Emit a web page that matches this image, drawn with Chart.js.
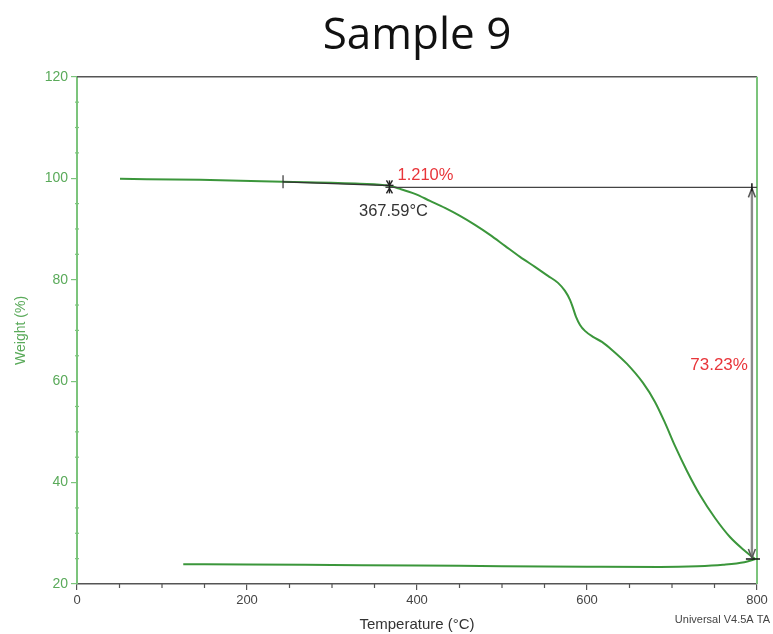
<!DOCTYPE html>
<html><head><meta charset="utf-8">
<script src="https://cdn.jsdelivr.net/npm/chart.js@4/dist/chart.umd.min.js"></script>
<style>html,body{margin:0;padding:0;background:#fff}#wrap{width:773px;height:634px}</style>
</head><body><div id="wrap"><canvas id="c" width="773" height="634"></canvas></div>
<script>
// Heating run (Temperature °C, Weight %)
const heatTemp   = [50.6,144.7,242.4,332.9,367.1,380.0,397.6,415.3,432.9,450.6,468.2,485.9,503.5,521.2,538.8,554.1,565.9,574.1,580.0,583.5,587.1,591.8,597.6,607.1,617.6,629.4,647.1,665.9,680.0,691.8,703.5,717.6,732.9,750.6,768.2,785.9,797.6];
const heatWeight = [99.88,99.68,99.29,98.90,98.50,97.91,96.92,95.54,94.16,92.58,90.81,88.84,86.67,84.50,82.52,80.75,79.37,77.79,76.02,74.44,72.66,71.08,69.90,68.72,67.73,66.15,63.39,59.64,55.90,51.76,47.22,42.29,37.55,33.02,29.27,26.51,24.93];
// Return trace
const coolTemp   = [125,200,300,400,500,600,686,730,760,785,798];
const coolWeight = [23.9,23.85,23.75,23.65,23.5,23.4,23.35,23.5,23.8,24.3,24.9];
// Tick labels
const xTicks = [0,200,400,600,800];
const yTicks = [20,40,60,80,100,120];
// Annotation values
const onsetStartT = 242.4, onsetStartW = 99.3;
const onsetT = 367.59, stepLevelW = 98.2, finalW = 24.93, arrowT = 794;
const stepLossLabel = '1.210%', onsetLabel = '367.59°C', totalLossLabel = '73.23%';
const footer = 'Universal V4.5A TA';

const GREEN_AX = '#7cc47c', GREEN_TXT = '#5aaa5a', CURVE = '#3b963b', DARK = '#555';

const annot = {
  id: 'annot',
  afterDraw(chart) {
    const {ctx, chartArea: a, scales: {x, y}} = chart;
    const X = v => x.getPixelForValue(v), Y = v => y.getPixelForValue(v);
    const ln = (x1, y1, x2, y2) => { ctx.beginPath(); ctx.moveTo(x1, y1); ctx.lineTo(x2, y2); ctx.stroke(); };
    ctx.save();
    // frame
    ctx.lineWidth = 1.5; ctx.strokeStyle = DARK; ln(a.left, a.top, a.right, a.top);
    ctx.strokeStyle = GREEN_AX; ctx.lineWidth = 2; ln(a.right, a.top, a.right, a.bottom);
    // minor ticks
    ctx.lineWidth = 1.2; ctx.strokeStyle = DARK;
    for (let t = 50; t < 800; t += 50) if (t % 200) ln(X(t), a.bottom, X(t), a.bottom + 4);
    ctx.strokeStyle = GREEN_AX;
    for (let w = 25; w < 120; w += 5) if (w % 20) ln(a.left - 2, Y(w), a.left + 2, Y(w));
    // onset tangent
    ctx.strokeStyle = '#333'; ctx.lineWidth = 1.2;
    ln(X(onsetStartT), Y(onsetStartW), X(onsetT), Y(98.55));
    ln(X(onsetStartT), Y(onsetStartW) - 6.5, X(onsetStartT), Y(onsetStartW) + 6.5);
    // horizontal step level
    ctx.strokeStyle = '#444';
    ln(X(onsetT) - 4, Y(stepLevelW), a.right, Y(stepLevelW));
    // onset marker
    const mx = X(onsetT), my = Y(stepLevelW);
    ctx.strokeStyle = '#222'; ctx.lineWidth = 1.4;
    ln(mx, my - 7, mx, my + 6);
    ln(mx - 3, my - 7, mx, my - 2); ln(mx + 3, my - 7, mx, my - 2);
    ln(mx - 3, my + 6, mx, my + 1); ln(mx + 3, my + 6, mx, my + 1);
    ln(mx - 4, my - 2, mx + 4, my - 2);
    // big arrow
    const ax = X(arrowT), ay1 = Y(stepLevelW), ay2 = Y(finalW);
    ctx.strokeStyle = '#8a8a8a'; ctx.lineWidth = 2.4;
    ln(ax, ay1 + 2, ax, ay2 - 2);
    ctx.strokeStyle = '#555'; ctx.lineWidth = 1.5;
    ln(ax - 3.5, ay1 + 10, ax, ay1 + 1); ln(ax + 3.5, ay1 + 10, ax, ay1 + 1);
    ln(ax - 3.5, ay2 - 10, ax, ay2 - 1); ln(ax + 3.5, ay2 - 10, ax, ay2 - 1);
    ctx.strokeStyle = '#111'; ctx.lineWidth = 1.5;
    ln(ax, ay1 - 4, ax, ay1 + 4);
    ln(ax - 6, ay2, a.right + 3, ay2);
    // labels
    ctx.font = '16.5px "Liberation Sans", Arial, sans-serif';
    ctx.textBaseline = 'middle';
    ctx.fillStyle = '#e8353a'; ctx.textAlign = 'left';
    ctx.fillText(stepLossLabel, mx + 8, my - 12);
    ctx.fillStyle = '#333'; ctx.textAlign = 'center';
    ctx.fillText(onsetLabel, mx + 4, my + 24);
    ctx.fillStyle = '#e8353a'; ctx.textAlign = 'right';
    ctx.font = '17px "Liberation Sans", Arial, sans-serif';
    ctx.fillText(totalLossLabel, ax - 4, Y(63.2));
    ctx.fillStyle = '#444'; ctx.font = '11px "Liberation Sans", Arial, sans-serif';
    ctx.textAlign = 'right';
    ctx.fillText(footer, a.right + 13, a.bottom + 36);
    ctx.restore();
  }
};

new Chart(document.getElementById('c'), {
  type: 'line',
  data: {
    datasets: [
      {data: heatTemp.map((t, i) => ({x: t, y: heatWeight[i]})), borderColor: CURVE, borderWidth: 2, pointRadius: 0, cubicInterpolationMode: 'monotone', fill: false},
      {data: coolTemp.map((t, i) => ({x: t, y: coolWeight[i]})), borderColor: CURVE, borderWidth: 2, pointRadius: 0, cubicInterpolationMode: 'monotone', fill: false}
    ]
  },
  options: {
    responsive: false, animation: false,
    layout: {padding: {left: 0, right: 16, top: 0, bottom: 0}},
    plugins: {
      legend: {display: false}, tooltip: {enabled: false},
      title: {display: true, text: 'Sample 9', fullSize: false, color: '#111',
        font: {family: '"Open Sans", sans-serif', size: 44, weight: 'normal', lineHeight: 1.2},
        padding: {top: 10, bottom: 14}}
    },
    scales: {
      x: {type: 'linear', min: 0, max: 800,
        afterBuildTicks: s => { s.ticks = xTicks.map(v => ({value: v})); },
        afterFit: s => { s.height = 50; },
        ticks: {color: '#444', font: {family: '"Liberation Sans", Arial, sans-serif', size: 13}, padding: 3, autoSkip: false, maxRotation: 0},
        grid: {drawOnChartArea: false, tickLength: 6, color: DARK, lineWidth: 1.2},
        border: {color: DARK, width: 1.5},
        title: {display: true, text: 'Temperature (°C)', color: '#333', font: {family: '"Liberation Sans", Arial, sans-serif', size: 15}, padding: {top: 0, bottom: 0}}
      },
      y: {type: 'linear', min: 20, max: 120,
        afterBuildTicks: s => { s.ticks = yTicks.map(v => ({value: v})); },
        afterFit: s => { s.width = 77; },
        ticks: {color: GREEN_TXT, font: {family: '"Liberation Sans", Arial, sans-serif', size: 14}, padding: 3},
        grid: {drawOnChartArea: false, tickLength: 6, color: GREEN_AX, lineWidth: 1.2},
        border: {color: GREEN_AX, width: 2},
        title: {display: true, text: 'Weight (%)', color: GREEN_TXT, font: {family: '"Liberation Sans", Arial, sans-serif', size: 14}, padding: {top: 13, bottom: 0}}
      }
    }
  },
  plugins: [annot]
});
</script></body></html>
